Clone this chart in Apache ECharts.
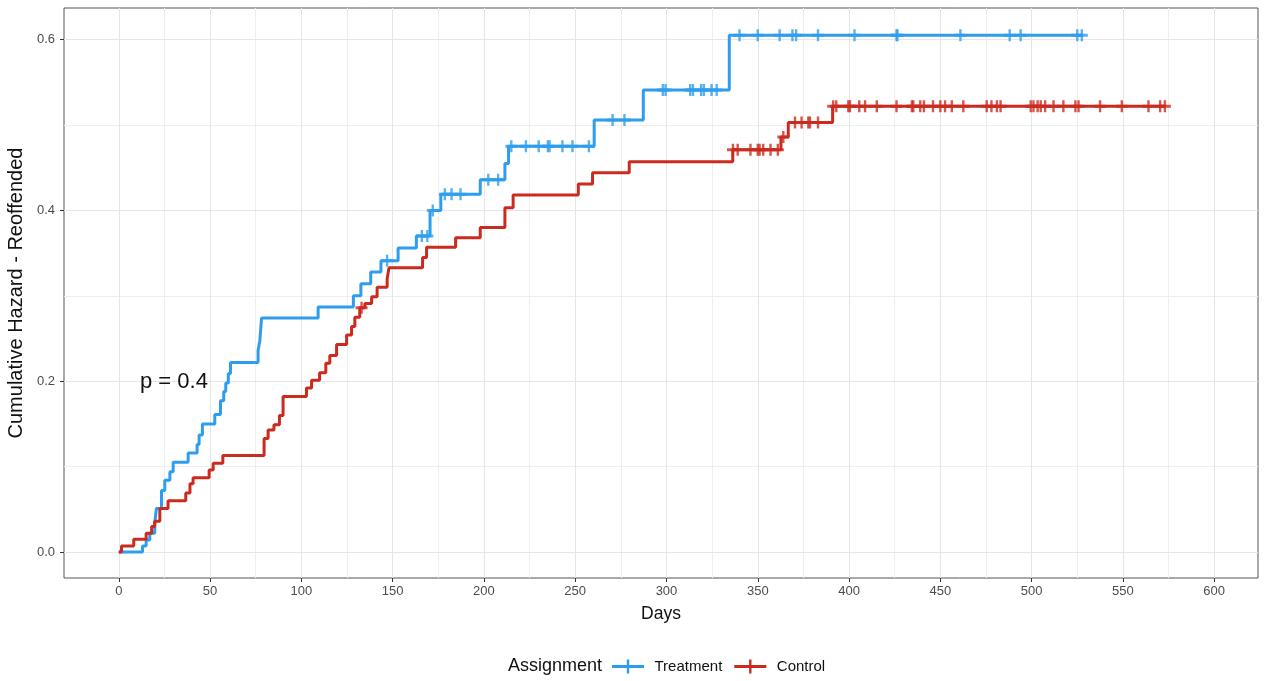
<!DOCTYPE html>
<html>
<head>
<meta charset="utf-8">
<script src="https://cdn.jsdelivr.net/npm/echarts@6/dist/echarts.min.js"></script>
<style>
  html, body { margin: 0; padding: 0; background: #fff; }
  #chart { width: 1274px; height: 681px; }
</style>
</head>
<body>
<div id="chart"></div>
<script>
// 治疗组 累积风险 阶梯 [天数, 值]
var treatmentSteps = [
    [0, 0], [13, 0.007], [15, 0.014], [17, 0.022], [19.7, 0.034], [20.6, 0.051],
    [23.4, 0.072], [25.2, 0.084], [28, 0.094], [29.8, 0.105], [38, 0.116],
    [42.9, 0.126], [44, 0.137], [45.8, 0.150], [52.6, 0.161], [55.7, 0.177],
    [57.5, 0.188], [58.6, 0.198], [60, 0.209], [61.2, 0.222], [76.3, 0.236],
    [77.3, 0.248], [78.2, 0.274], [109.2, 0.287], [128.5, 0.300], [132.6, 0.314],
    [138, 0.328], [143.6, 0.341], [153, 0.356], [163, 0.370], [170.5, 0.400],
    [176.4, 0.419], [198, 0.436], [211.5, 0.455], [213.5, 0.475], [260.4, 0.506],
    [287.3, 0.541], [334.4, 0.605], [527.5, 0.605]
];
// 治疗组 删失时间
var treatmentCensor = [
    147, 166, 169, 172, 178.6, 182.3, 187.2, 202.4, 207.8, 215, 223, 230, 235, 236,
    243, 248.5, 257.5, 270.5, 277, 298, 299.5, 313, 314.5, 319, 320.5, 324.7, 327.5,
    340, 350, 362, 369, 371, 383, 403, 426, 426.5, 461, 488, 494, 525, 527.5
];
// 对照组
var controlSteps = [
    [0, 0], [1.5, 0.007], [8.2, 0.015], [15, 0.022], [18, 0.030], [19.7, 0.036],
    [22.5, 0.051], [27, 0.060], [36.7, 0.069], [39, 0.080], [40.7, 0.087],
    [49.5, 0.096], [51.7, 0.104], [57, 0.113], [79.6, 0.133], [81.8, 0.143],
    [85, 0.149], [88, 0.160], [90, 0.182], [102.8, 0.192], [105.6, 0.201],
    [110, 0.210], [113.4, 0.221], [115.6, 0.230], [119.3, 0.243], [124.8, 0.254],
    [127.5, 0.264], [129.3, 0.275], [132, 0.286], [134.8, 0.291], [138.5, 0.299],
    [141.5, 0.310], [147, 0.320], [148, 0.333], [166.4, 0.345], [168.6, 0.357],
    [184.5, 0.368], [198, 0.380], [211.5, 0.403], [216, 0.418], [251.7, 0.431],
    [259.5, 0.444], [279.6, 0.457], [336.3, 0.471], [362.7, 0.486], [366.7, 0.503],
    [391, 0.522], [573, 0.522]
];
var controlCensor = [
    133, 336.4, 339, 346, 350, 351, 353, 357, 361, 364, 370.4, 374, 377.7, 378.6, 383,
    391.3, 393, 399.6, 400.5, 405.6, 408.8, 415.2, 426, 434.4, 435.2, 439, 441, 446,
    450, 452.6, 456.3, 462.6, 475.4, 478, 481, 483, 499.5, 501, 503.3, 505, 507.4,
    512, 517.4, 524, 525.7, 537.5, 549.4, 564, 570.4, 573
];
var xTicks = [0, 50, 100, 150, 200, 250, 300, 350, 400, 450, 500, 550, 600];
var xMinor = [25, 75, 125, 175, 225, 275, 325, 375, 425, 475, 525, 575];
var yTicks = [0, 0.2, 0.4, 0.6];
var yMinor = [0.1, 0.3, 0.5];

var blue = '#2E9DEE';
var red = '#CB2A1F';
var font = 'Liberation Sans, Arial, sans-serif';
var plusIcon = 'path://M0,5.5 H14.8 V0 H17.2 V5.5 H32 V8.5 H17.2 V14 H14.8 V8.5 H0 Z';
var censorIcon = 'path://M0,4.5 H4.8 V0 H7.2 V4.5 H12 V7.5 H7.2 V12 H4.8 V7.5 H0 Z';

// 取删失点对应的阶梯值
function stepValue(steps, t) {
    var v = 0;
    for (var i = 0; i < steps.length; i++) {
        if (steps[i][0] <= t) v = steps[i][1];
    }
    return v;
}
function censorPoints(steps, times) {
    return times.map(function (t) { return [t, stepValue(steps, t)]; });
}

var gridLines = [];
xMinor.forEach(function (v) { gridLines.push({ xAxis: v, lineStyle: { color: '#eeeeee', width: 1, type: 'solid' } }); });
yMinor.forEach(function (v) { gridLines.push({ yAxis: v, lineStyle: { color: '#eeeeee', width: 1, type: 'solid' } }); });
xTicks.forEach(function (v) { gridLines.push({ xAxis: v, lineStyle: { color: '#e6e6e6', width: 1, type: 'solid' } }); });
yTicks.forEach(function (v) { gridLines.push({ yAxis: v, lineStyle: { color: '#e6e6e6', width: 1, type: 'solid' } }); });

var option = {
    animation: false,
    backgroundColor: '#fff',
    textStyle: { fontFamily: font },
    grid: {
        left: 64, right: 16, top: 8, bottom: 103, show: true,
        borderColor: '#555', borderWidth: 1, outerBoundsMode: 'none', containLabel: false
    },
    xAxis: {
        type: 'value', min: -30, max: 624,
        name: 'Days', nameLocation: 'middle', nameGap: 27,
        nameTextStyle: { fontSize: 17.5, color: '#111' },
        axisLine: { show: false, onZero: false },
        axisTick: { show: true, length: 4, lineStyle: { color: '#333' }, customValues: xTicks },
        axisLabel: { color: '#4d4d4d', fontSize: 13, margin: 7, customValues: xTicks },
        splitLine: { show: false }
    },
    yAxis: {
        type: 'value', min: -0.0304, max: 0.637,
        name: 'Cumulative Hazard - Reoffended', nameLocation: 'middle', nameGap: 36,
        nameTextStyle: { fontSize: 20, color: '#111' },
        axisLine: { show: false, onZero: false },
        axisTick: { show: true, length: 4, lineStyle: { color: '#333' }, customValues: yTicks },
        axisLabel: {
            color: '#4d4d4d', fontSize: 13, margin: 9, customValues: yTicks,
            formatter: function (v) { return v.toFixed(1); }
        },
        splitLine: { show: false }
    },
    legend: {
        data: ['Treatment', 'Control'],
        left: 612, top: 659, padding: 0,
        icon: plusIcon, itemWidth: 33, itemHeight: 14, itemGap: 12,
        textStyle: { fontSize: 15, color: '#111', padding: [0, 0, 0, 5] }
    },
    graphic: [
        { type: 'text', left: 508, top: 657, z: 100, style: { text: 'Assignment', fontSize: 18, fill: '#111', fontFamily: font } },
        { type: 'text', left: 140, top: 371, z: 100, style: { text: 'p = 0.4', fontSize: 22, fill: '#111', fontFamily: font } }
    ],
    series: [
        {
            type: 'line', name: 'grid', data: [], silent: true, z: 0,
            markLine: { silent: true, z: 0, symbol: 'none', label: { show: false }, animation: false, data: gridLines }
        },
        {
            type: 'line', name: 'Treatment', step: 'end', data: treatmentSteps,
            showSymbol: false, symbol: 'none', color: blue, lineStyle: { width: 3, color: blue }, z: 3
        },
        {
            type: 'line', name: 'Control', step: 'end', data: controlSteps,
            showSymbol: false, symbol: 'none', color: red, lineStyle: { width: 3, color: red }, z: 3
        },
        {
            type: 'scatter', name: 'Treatment', data: censorPoints(treatmentSteps, treatmentCensor),
            symbol: censorIcon, symbolSize: 12, itemStyle: { color: blue }, z: 4
        },
        {
            type: 'scatter', name: 'Control', data: censorPoints(controlSteps, controlCensor),
            symbol: censorIcon, symbolSize: 12, itemStyle: { color: red }, z: 4
        }
    ]
};

var mychart = echarts.init(document.getElementById('chart'));
mychart.setOption(option);
</script>
</body>
</html>
